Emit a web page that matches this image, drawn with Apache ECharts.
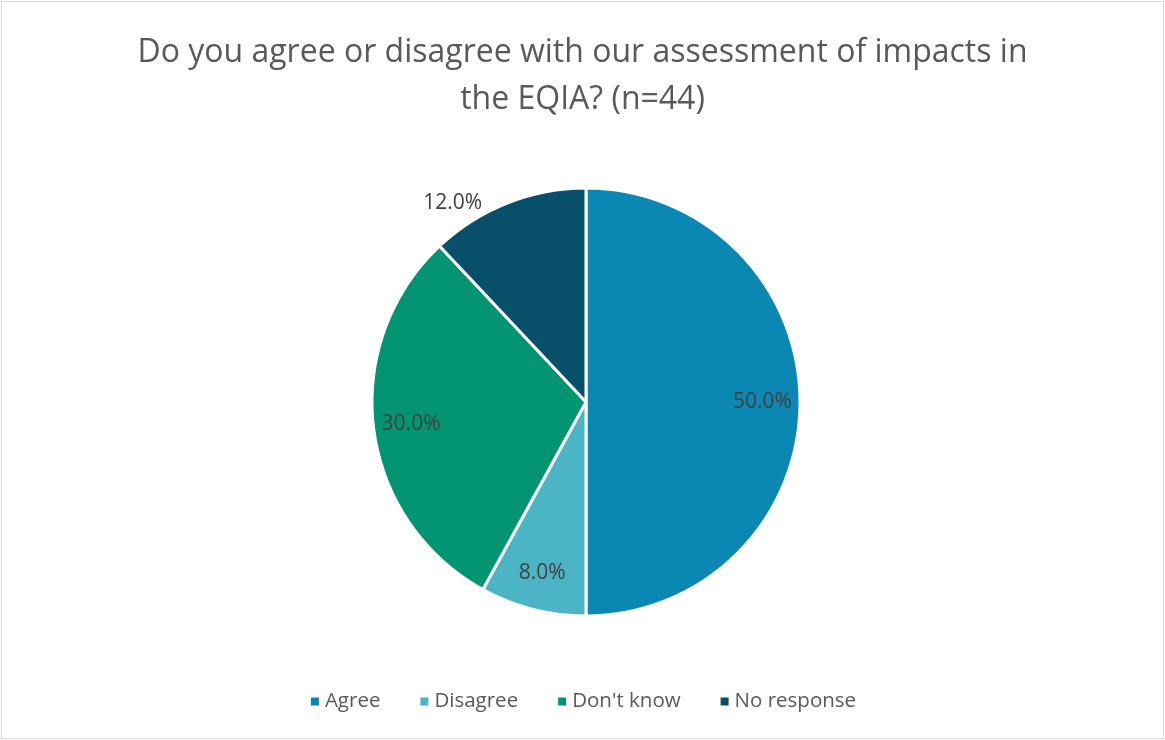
<!DOCTYPE html>
<html>
<head>
<meta charset="utf-8">
<script src="https://cdn.jsdelivr.net/npm/echarts@6/dist/echarts.min.js"></script>
<style>
  html, body { margin: 0; padding: 0; background: #fff; }
  #chart { position: absolute; left: 1px; top: 1px; width: 1161px; height: 736px; border: 1px solid #d9d9d9; }
</style>
</head>
<body>
<div id="chart"></div>
<script>
// Responses to the EQIA impact assessment question
const categories = ['Agree', 'Disagree', "Don't know", 'No response'];
const shares = [50.0, 8.0, 30.0, 12.0];
const colors = ['#0a88b3', '#4bb5c5', '#039571', '#08506a'];

const FONT = '"Open Sans", Lato, sans-serif';
const R = 214;
const CENTER = [584, 400];
const pct = p => p.value.toFixed(1) + '%';
const labelText = { fontFamily: FONT, fontSize: 21, color: '#404040', formatter: pct };

// The small "No response" slice gets its label outside the pie
const slices = categories.map((name, i) => {
  const item = { name, value: shares[i], itemStyle: { color: colors[i] } };
  if (name === 'No response') {
    item.label = Object.assign({ show: true, position: 'outside' }, labelText);
    item.labelLine = { show: false, length: 0, length2: 20 };
  } else {
    item.label = { show: false };
  }
  return item;
});

// Transparent ring that carries the remaining percentage labels near the outer edge
const labelRing = categories.map((name, i) => ({
  name,
  value: shares[i],
  label: { show: name !== 'No response' }
}));

const chart = echarts.init(document.getElementById('chart'));
chart.setOption({
  animation: false,
  title: {
    text: 'Do you agree or disagree with our assessment of impacts in\nthe EQIA? (n=44)',
    left: 'center',
    top: 22,
    textStyle: { fontFamily: FONT, fontSize: 32, fontWeight: 'normal', color: '#595959', lineHeight: 47 }
  },
  legend: {
    bottom: 21,
    left: 'center',
    icon: 'rect',
    itemWidth: 10,
    itemHeight: 10,
    itemGap: 38,
    data: categories,
    textStyle: { fontFamily: FONT, fontSize: 20.5, color: '#595959' }
  },
  series: [
    {
      type: 'pie',
      center: CENTER,
      radius: [0, R],
      startAngle: 90,
      clockwise: true,
      data: slices,
      itemStyle: { borderColor: '#ffffff', borderWidth: 3 },
      label: labelText,
      labelLine: { show: false },
      emphasis: { disabled: true }
    },
    {
      type: 'pie',
      center: CENTER,
      radius: [R * 0.62, R],
      startAngle: 90,
      clockwise: true,
      silent: true,
      legendHoverLink: false,
      data: labelRing,
      itemStyle: { color: 'rgba(0,0,0,0)' },
      label: Object.assign({ position: 'inside' }, labelText),
      labelLine: { show: false },
      emphasis: { disabled: true }
    }
  ]
});
</script>
</body>
</html>
